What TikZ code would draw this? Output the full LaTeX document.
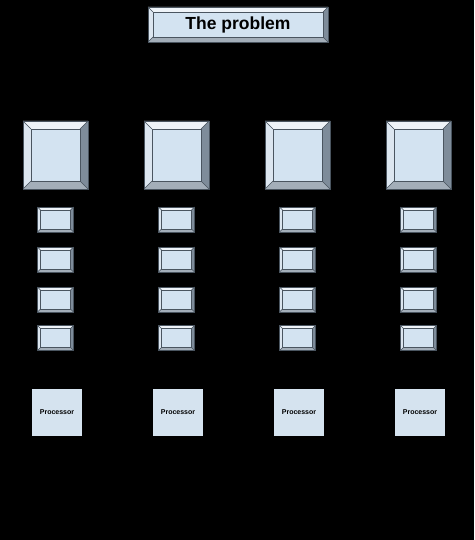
\documentclass[tikz,border=0pt]{standalone}
\usepackage{fontspec}
\setmainfont{Liberation Sans}
\definecolor{inner}{HTML}{D3E3F1}
\definecolor{btop}{HTML}{EEF3F8}
\definecolor{bleft}{HTML}{DCE6F0}
\definecolor{bright}{HTML}{7E8C9A}
\definecolor{bbot}{HTML}{A3AEB9}
\definecolor{edge}{HTML}{4A5560}
\definecolor{proc}{HTML}{D5E3EF}
\newcommand{\bevelbox}[6]{% name, x1, y1, x2, y2, bevel
  \fill[btop] (#2,#3) -- (#4,#3) -- ({#4-#6},{#3+#6}) -- ({#2+#6},{#3+#6}) -- cycle;
  \fill[bleft] (#2,#3) -- ({#2+#6},{#3+#6}) -- ({#2+#6},{#5-#6}) -- (#2,#5) -- cycle;
  \fill[bright] (#4,#3) -- (#4,#5) -- ({#4-#6},{#5-#6}) -- ({#4-#6},{#3+#6}) -- cycle;
  \fill[bbot] (#2,#5) -- (#4,#5) -- ({#4-#6},{#5-#6}) -- ({#2+#6},{#5-#6}) -- cycle;
  \node[bevelinner, minimum width={((#4)-(#2)-2*(#6))*1pt}, minimum height={((#5)-(#3)-2*(#6))*1pt}] (#1) at ({((#2)+(#4))/2},{((#3)+(#5))/2}) {};
  \draw[bevelline] (#2,#3) rectangle (#4,#5);
  \draw[bevelline] (#2,#3) -- ({#2+#6},{#3+#6}) (#4,#3) -- ({#4-#6},{#3+#6})
    (#2,#5) -- ({#2+#6},{#5-#6}) (#4,#5) -- ({#4-#6},{#5-#6});
}
\tikzset{
  bevelinner/.style={fill=inner, draw=edge, line width=0.6pt, inner sep=0pt},
  bevelline/.style={draw=edge, line width=0.6pt},
  procbox/.style={fill=proc, minimum width=50pt, minimum height=47pt, inner sep=0pt, font=\bfseries\fontsize{7}{8}\selectfont},
}
\begin{document}
\begin{tikzpicture}[x=1pt,y=-1pt]
\fill[black] (0,0) rectangle (474,540);
\useasboundingbox (0,0) rectangle (474,540);
% title
\bevelbox{titlebg}{148}{7}{328}{42}{5}
\node[font=\bfseries\fontsize{17.5}{19}\selectfont, text=black] (title) at (238,24.5) {The problem};
% columns
\foreach \c/\cx in {1/55.5,2/176.5,3/297.5,4/418.5}{
  \bevelbox{big\c}{\cx-32.5}{121}{\cx+32.5}{189}{8}
  \foreach \r/\cy in {1/219.5,2/259.5,3/299.5,4/338}{
    \bevelbox{s\c\r}{\cx-18}{\cy-12.5}{\cx+18}{\cy+12.5}{3}
  }
  \node[procbox] (p\c) at (\cx+1.5,412.5) {Processor};
}
\end{tikzpicture}
\end{document}
